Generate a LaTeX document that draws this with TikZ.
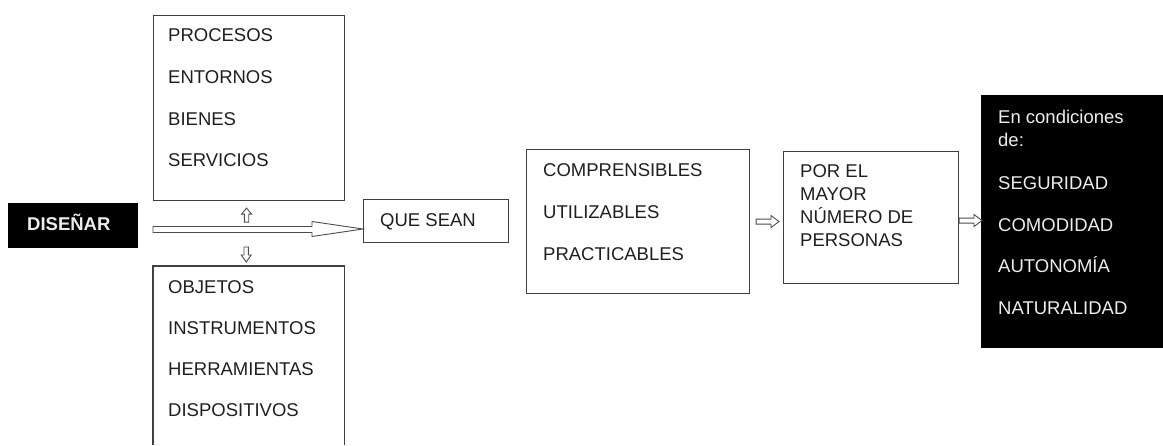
\documentclass[tikz,border=0pt]{standalone}
\usepackage{fontspec}
\setmainfont{Liberation Sans}
\usetikzlibrary{calc}
\tikzset{
  boxline/.style={draw=black!75, line width=1.1pt},
  whitebox/.style={boxline, fill=white, inner sep=0pt, anchor=north west},
  blackbox/.style={fill=black, draw=black, inner sep=0pt, anchor=north west},
  txt/.style={inner sep=0pt, anchor=base west, text=black!88, align=left},
  wtxt/.style={inner sep=0pt, anchor=base west, text=white!93!black, align=left},
  hollow/.style={draw=black!70, fill=white, line width=0.9pt, line join=miter},
}
\newcommand{\bigfont}{\fontsize{18.5}{41.6}\selectfont}
\newcommand{\tightfont}{\fontsize{18.5}{23.2}\selectfont}
\begin{document}
\begin{tikzpicture}[x=1pt,y=-1pt]
\useasboundingbox (0,0) rectangle (1163,445);

% DISEÑAR
\node[blackbox, minimum width=129, minimum height=44] (dis) at (8,203) {};
\node[wtxt, font=\bigfont\bfseries] (dist) at (27,230.5) {DISEÑAR};

% top box
\node[whitebox, minimum width=191, minimum height=185] (top) at (153,15) {};
\node[txt, font=\bigfont] (topt) at (168,166.7) {PROCESOS\\ENTORNOS\\BIENES\\SERVICIOS};

% bottom box (open at the bottom)
\node[inner sep=0pt, anchor=north west, minimum width=191, minimum height=179] (bot) at (153,266) {};
\draw[boxline] (bot.south west) -- (bot.north west) -- (bot.north east) -- (bot.south east);
\node[txt, font=\fontsize{18.5}{41.1}\selectfont] (bott) at (168,416.7) {OBJETOS\\INSTRUMENTOS\\HERRAMIENTAS\\DISPOSITIVOS};

% QUE SEAN
\node[whitebox, minimum width=145, minimum height=43] (qs) at (363,199) {};
\node[txt, font=\bigfont] (qst) at (380,226) {QUE SEAN};

% middle box
\node[whitebox, minimum width=223, minimum height=144] (mid) at (526,149) {};
\node[txt, font=\fontsize{18.5}{42}\selectfont] (midt) at (543,260) {COMPRENSIBLES\\UTILIZABLES\\PRACTICABLES};

% POR EL box
\node[whitebox, minimum width=175, minimum height=132] (por) at (783,151) {};
\node[txt, font=\tightfont] (port) at (800,246.7) {POR EL\\MAYOR\\NÚMERO DE\\PERSONAS};

% condiciones box
\node[blackbox, minimum width=182, minimum height=252] (cond) at (981,95) {};
\node[wtxt, font=\tightfont] (condt) at (998,146.5) {En condiciones\\de:};
\node[wtxt, font=\fontsize{18.5}{41.5}\selectfont] (condl) at (998,314) {SEGURIDAD\\COMODIDAD\\AUTONOMÍA\\NATURALIDAD};

% big arrow DISEÑAR -> QUE SEAN
\coordinate (bigtip) at ($(qs.north west)+(0,30)$);
\coordinate (bigstart) at (top.south west |- bigtip);
\draw[hollow] ($(bigstart)+(0,-2.5)$) -- ($(bigtip)+(-51,-2.5)$) -- ($(bigtip)+(-51,-7.5)$)
  -- (bigtip) -- ($(bigtip)+(-51,7.5)$) -- ($(bigtip)+(-51,3.5)$) -- ($(bigstart)+(0,3.5)$) -- cycle;

% small up arrow to top box
\coordinate (upt) at ($(top.south)+(-2.5,7)$);
\draw[hollow] (upt) -- ($(upt)+(5,6)$) -- ($(upt)+(2.2,6)$) -- ($(upt)+(2.2,14)$) -- ($(upt)+(-2.2,14)$)
  -- ($(upt)+(-2.2,6)$) -- ($(upt)+(-5,6)$) -- cycle;

% small down arrow to bottom box
\coordinate (dnt) at ($(bot.north)+(-2.5,-4)$);
\draw[hollow] (dnt) -- ($(dnt)+(5,-7)$) -- ($(dnt)+(2.2,-7)$) -- ($(dnt)+(2.2,-15)$) -- ($(dnt)+(-2.2,-15)$)
  -- ($(dnt)+(-2.2,-7)$) -- ($(dnt)+(-5,-7)$) -- cycle;

% arrow mid -> por
\coordinate (a1t) at ($(por.west |- mid.east)+(-4,0)$);
\coordinate (a1s) at ($(mid.east)+(6,0)$);
\draw[hollow] ($(a1s)+(0,-2.5)$) -- ($(a1t)+(-8,-2.5)$) -- ($(a1t)+(-8,-6)$) -- (a1t)
  -- ($(a1t)+(-8,6)$) -- ($(a1t)+(-8,2.5)$) -- ($(a1s)+(0,2.5)$) -- cycle;

% arrow por -> cond
\coordinate (a2t) at ($(cond.west |- por.east)+(1,3)$);
\coordinate (a2s) at ($(por.east)+(0,3)$);
\draw[hollow] ($(a2s)+(0,-2.5)$) -- ($(a2t)+(-8,-2.5)$) -- ($(a2t)+(-8,-6)$) -- (a2t)
  -- ($(a2t)+(-8,6)$) -- ($(a2t)+(-8,2.5)$) -- ($(a2s)+(0,2.5)$) -- cycle;
\end{tikzpicture}
\end{document}
